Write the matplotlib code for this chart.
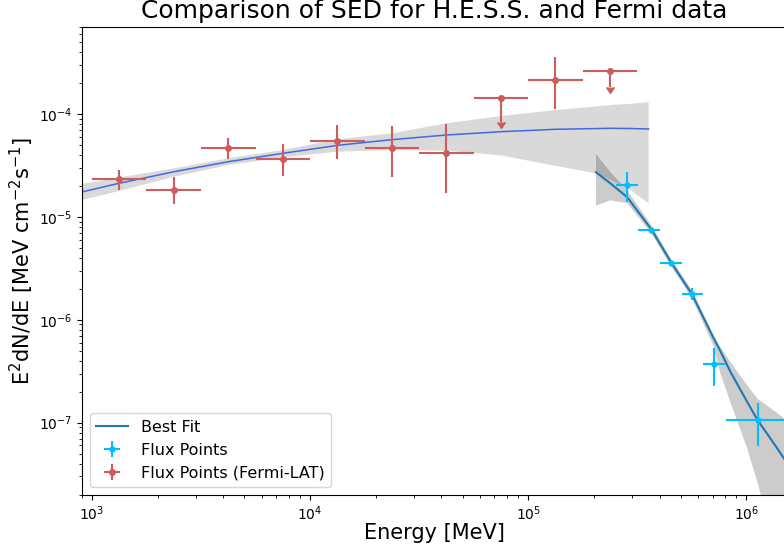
import matplotlib
matplotlib.use("Agg")
import matplotlib.pyplot as plt
import numpy as np

# Fermi-LAT best fit model and its error band (E in MeV, E^2 dN/dE in MeV cm-2 s-1)
fermi_model_e = [900, 1334, 2385, 4236, 7516, 13400, 23770, 42360, 75510, 134000, 204500, 238800, 293800, 356500]
fermi_model_f = [1.746e-5, 2.123e-5, 2.75e-5, 3.439e-5, 4.15e-5, 4.96e-5, 5.63e-5, 6.25e-5, 6.73e-5, 7.10e-5, 7.21e-5, 7.26e-5, 7.22e-5, 7.15e-5]
fermi_band_hi = [2.089e-5, 2.415e-5, 2.965e-5, 3.71e-5, 4.467e-5, 5.675e-5, 6.49e-5, 8.13e-5, 9.57e-5, 1.094e-4, 1.183e-4, 1.223e-4, 1.256e-4, 1.30e-4]
fermi_band_lo = [1.459e-5, 1.786e-5, 2.46e-5, 3.195e-5, 3.79e-5, 4.305e-5, 4.45e-5, 4.40e-5, 3.95e-5, 3.126e-5, 2.65e-5, 2.286e-5, 1.826e-5, 1.355e-5]

# H.E.S.S. best fit model and error band
hess_model_e = [2.045e5, 2.377e5, 2.837e5, 3.674e5, 4.496e5, 5.636e5, 7.08e5, 7.60e5, 8.446e5, 1.0074e6, 1.127e6, 1.288e6, 1.526e6]
hess_model_f = [2.713e-5, 2.121e-5, 1.561e-5, 7.54e-6, 3.668e-6, 1.769e-6, 6.61e-7, 4.975e-7, 3.13e-7, 1.60e-7, 1.055e-7, 7.05e-8, 4.15e-8]
hess_band_hi = [4.087e-5, 2.731e-5, 1.826e-5, 8.25e-6, 3.987e-6, 1.926e-6, 7.115e-7, 5.44e-7, 3.89e-7, 2.324e-7, 1.70e-7, 1.39e-7, 1.062e-7]
hess_band_lo = [1.285e-5, 1.443e-5, 1.365e-5, 6.90e-6, 3.37e-6, 1.61e-6, 5.565e-7, 3.02e-7, 1.589e-7, 5.68e-8, 2.59e-8, 9.06e-9, 1.21e-9]

# H.E.S.S. flux points
hess_e = [2.83e5, 3.674e5, 4.496e5, 5.636e5, 7.13e5, 1.127e6]
hess_e_min = [2.533e5, 3.196e5, 4.019e5, 5.07e5, 6.35e5, 8.04e5]
hess_e_max = [3.186e5, 4.019e5, 5.07e5, 6.35e5, 8.04e5, 1.58e6]
hess_f = [2.042e-5, 7.51e-6, 3.565e-6, 1.769e-6, 3.69e-7, 1.055e-7]
hess_f_hi = [2.713e-5, 7.75e-6, 3.69e-6, 2.023e-6, 5.28e-7, 1.564e-7]
hess_f_lo = [1.405e-5, 7.30e-6, 3.44e-6, 1.547e-6, 2.29e-7, 5.94e-8]

# Fermi-LAT flux points (detections)
fermi_e = [1334, 2371, 4217, 7499, 13335, 23714, 42170, 133352]
fermi_e_min = [1000, 1778, 3162, 5623, 10000, 17783, 31623, 100000]
fermi_e_max = [1778, 3162, 5623, 10000, 17783, 31623, 56234, 177828]
fermi_f = [2.33e-5, 1.84e-5, 4.68e-5, 3.68e-5, 5.51e-5, 4.68e-5, 4.15e-5, 2.13e-4]
fermi_f_hi = [2.86e-5, 2.46e-5, 5.81e-5, 5.08e-5, 7.82e-5, 7.69e-5, 8.05e-5, 3.61e-4]
fermi_f_lo = [1.82e-5, 1.32e-5, 3.63e-5, 2.51e-5, 3.63e-5, 2.46e-5, 1.69e-5, 1.11e-4]

# Fermi-LAT upper limits
ul_e = [74989, 237137]
ul_e_min = [56234, 177828]
ul_e_max = [100000, 316228]
ul_f = [1.43e-4, 2.60e-4]
ul_arrow = [8.41e-5, 1.84e-4]

fig = plt.figure(figsize=(7.84, 5.47), dpi=100)
ax = fig.add_axes([82/784, 52/547, 704/784, 468.3/547])

ax.fill_between(fermi_model_e, fermi_band_lo, fermi_band_hi, facecolor="black", alpha=0.15, linewidth=0)
ax.plot(fermi_model_e, fermi_model_f, color="royalblue", lw=1.1)

ax.fill_between(hess_model_e, hess_band_lo, hess_band_hi, facecolor="black", alpha=0.2, linewidth=0)
ax.plot(hess_model_e, hess_model_f, color="tab:blue", lw=1.5, label="Best Fit")

e = np.array(hess_e)
f = np.array(hess_f)
ax.errorbar(e, f,
            xerr=[e - np.array(hess_e_min), np.array(hess_e_max) - e],
            yerr=[f - np.array(hess_f_lo), np.array(hess_f_hi) - f],
            fmt="o", ms=3.5, color="deepskyblue", label="Flux Points")

e = np.array(fermi_e)
f = np.array(fermi_f)
ax.errorbar(e, f,
            xerr=[e - np.array(fermi_e_min), np.array(fermi_e_max) - e],
            yerr=[f - np.array(fermi_f_lo), np.array(fermi_f_hi) - f],
            fmt="o", ms=4, color="indianred", label="Flux Points (Fermi-LAT)")

e = np.array(ul_e)
f = np.array(ul_f)
ax.errorbar(e, f,
            xerr=[e - np.array(ul_e_min), np.array(ul_e_max) - e],
            yerr=[f - np.array(ul_arrow), np.zeros(len(f))],
            uplims=True, fmt="o", ms=4, color="indianred")

ax.set_xscale("log")
ax.set_yscale("log")
ax.set_xlim(900, 1.52e6)
ax.set_ylim(1.98e-8, 7.05e-4)
ax.tick_params(labelsize=10)
ax.set_xlabel("Energy [MeV]", fontsize=15, labelpad=0)
ax.set_ylabel("E$^2$dN/dE [MeV cm$^{-2}$s$^{-1}$]", fontsize=15, labelpad=2)
ax.set_title("Comparison of SED for H.E.S.S. and Fermi data", fontsize=18)
ax.legend(loc="lower left", fontsize=11.5)

fig.savefig("out.png", dpi=100)
